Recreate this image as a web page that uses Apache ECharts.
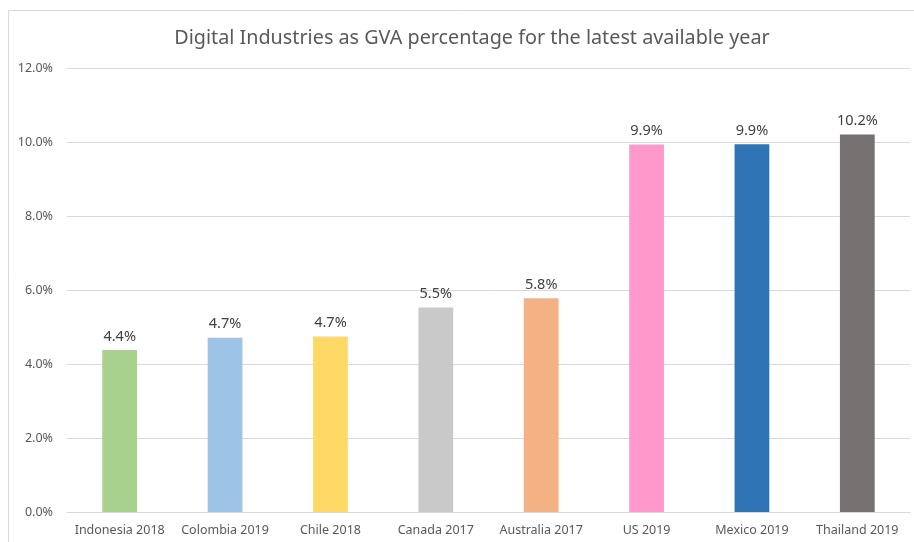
<!DOCTYPE html>
<html>
<head>
<meta charset="utf-8">
<script src="https://cdn.jsdelivr.net/npm/echarts@6/dist/echarts.min.js"></script>
<style>
  html, body { margin: 0; padding: 0; background: #fff; }
  #container { width: 914px; height: 542px; }
</style>
</head>
<body>
<div id="container"></div>
<script>
var categories = ['Indonesia 2018', 'Colombia 2019', 'Chile 2018', 'Canada 2017',
    'Australia 2017', 'US 2019', 'Mexico 2019', 'Thailand 2019'];
var gvaShare = [4.38, 4.71, 4.74, 5.53, 5.78, 9.93, 9.94, 10.2];
var barColors = ['#A9D18E', '#9DC3E6', '#FFD966', '#C9C9C9',
    '#F4B183', '#FF99CC', '#2E75B6', '#767171'];

var dom = document.getElementById('container');
var myChart = echarts.init(dom, null, { renderer: 'canvas' });

var fontFamily = 'Noto Sans, sans-serif';

var option = {
    animation: false,
    backgroundColor: '#fff',
    graphic: [{
        type: 'rect',
        shape: { x: 8.5, y: 10.5, width: 920, height: 560 },
        style: { fill: 'none', stroke: '#D9D9D9', lineWidth: 1 },
        silent: true
    }],
    title: {
        text: 'Digital Industries as GVA percentage for the latest available year',
        left: 467,
        textAlign: 'center',
        top: 23,
        textStyle: { color: '#595959', fontSize: 19.8, fontWeight: 'normal', fontFamily: fontFamily }
    },
    grid: { left: 67, right: 4, top: 68, bottom: 30, containLabel: false },
    xAxis: {
        type: 'category',
        data: categories,
        axisLine: { lineStyle: { color: '#D9D9D9' } },
        axisTick: { show: false },
        axisLabel: { color: '#595959', fontSize: 12.5, fontFamily: fontFamily, margin: 12, interval: 0 }
    },
    yAxis: {
        type: 'value',
        min: 0,
        max: 12,
        interval: 2,
        axisLine: { show: false },
        axisTick: { show: false },
        splitLine: { lineStyle: { color: '#D9D9D9' } },
        axisLabel: {
            color: '#595959', fontSize: 12.5, fontFamily: fontFamily, margin: 14,
            formatter: function (v) { return v.toFixed(1) + '%'; }
        }
    },
    series: [{
        type: 'bar',
        barWidth: '33%',
        data: gvaShare.map(function (v, i) {
            return { value: v, itemStyle: { color: barColors[i] } };
        }),
        label: {
            show: true,
            position: 'top',
            distance: 6,
            color: '#404040',
            fontSize: 14.5,
            fontFamily: fontFamily,
            formatter: function (p) { return p.value.toFixed(1) + '%'; }
        }
    }]
};

myChart.setOption(option);
window.addEventListener('resize', myChart.resize);
</script>
</body>
</html>
